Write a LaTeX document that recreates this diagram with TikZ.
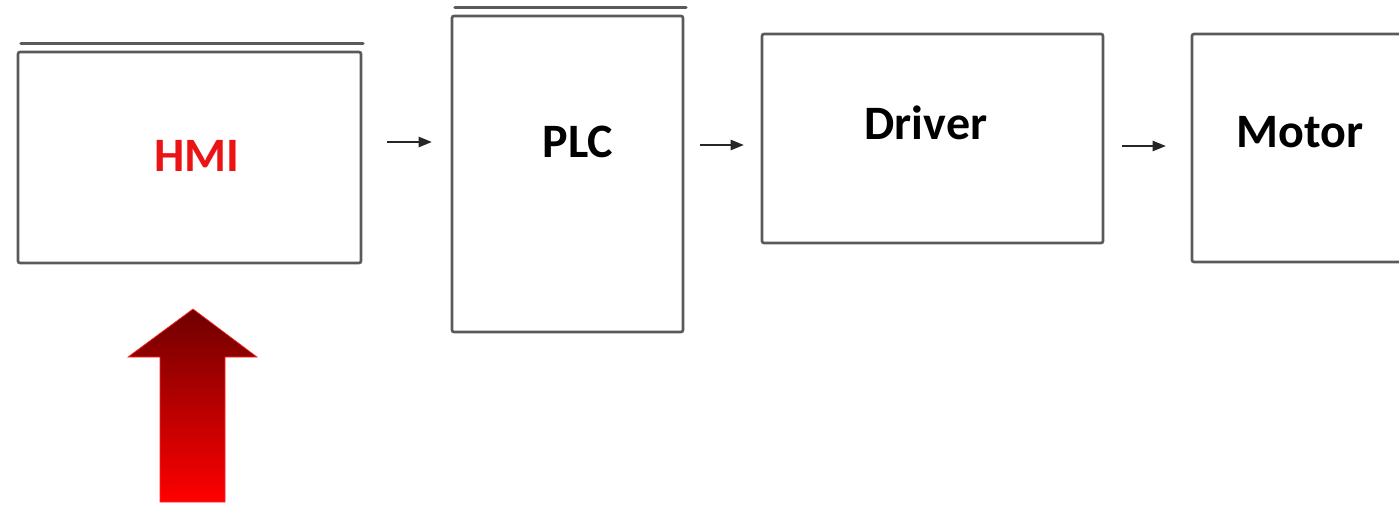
\documentclass[tikz,border=0pt]{standalone}
\usepackage{fontspec}
\setmainfont{Carlito}
\usetikzlibrary{arrows.meta}
\tikzset{every picture/.style={line width=0.75pt}}
\definecolor{boxgray}{RGB}{90,90,90}
\definecolor{hmired}{RGB}{235,20,20}
\definecolor{darkred}{RGB}{110,0,0}

\begin{document}
\begin{tikzpicture}[x=0.75pt,y=0.75pt,yscale=-1,xscale=1,
	block/.style={draw=boxgray, line width=2, rounded corners=1.5, inner sep=0},
	lid/.style={draw=boxgray, line width=2.6, line cap=round},
	blocktext/.style={font=\fontsize{36}{43}\selectfont\bfseries, inner sep=0},
	flow/.style={draw=black!85, line width=1.8, -{Triangle[length=10pt,width=7.5pt]}}]
	\useasboundingbox (0,0) rectangle (1399,504);

	% Blocks
	\node [block, minimum width=257.25pt, minimum height=158.25pt] (hmi) at (189.5,157.5) {};
	\node [block, minimum width=173.25pt, minimum height=237pt] (plc) at (567.5,174) {};
	\node [block, minimum width=255.75pt, minimum height=156.75pt] (drv) at (932.5,138.5) {};
	\node [block, minimum width=160.5pt, minimum height=171pt] (mot) at (1299,148) {};

	% Top edges
	\draw [lid] (21,43.5) -- (363,43.5) ;
	\draw [lid] (455,7.5) -- (686,7.5) ;

	% Text Node
	\node [blocktext, text=hmired] (hmitext) at (197,155.5) {HMI};
	% Text Node
	\node [blocktext] (plctext) at (578,142) {PLC};
	% Text Node
	\node [blocktext] (drvtext) at (926,122.5) {Driver};
	% Text Node
	\node [blocktext] (mottext) at (1300,132) {Motor};

	% Arrows
	\coordinate (a1) at (387,142);
	\coordinate (b1) at (432,142);
	\coordinate (a2) at (700,145);
	\coordinate (b2) at (744,145);
	\coordinate (a3) at (1122,146);
	\coordinate (b3) at (1166,146);
	\draw [flow] (a1) -- (b1) ;
	\draw [flow] (a2) -- (b2) ;
	\draw [flow] (a3) -- (b3) ;

	% Block Arrow
	\shade [top color=darkred, bottom color=red, draw=red!85, line width=0.5]
		(193,309) -- (257,357) -- (225,357) -- (225,502) -- (160,502) -- (160,357) -- (128,357) -- cycle ;

\end{tikzpicture}
\end{document}
